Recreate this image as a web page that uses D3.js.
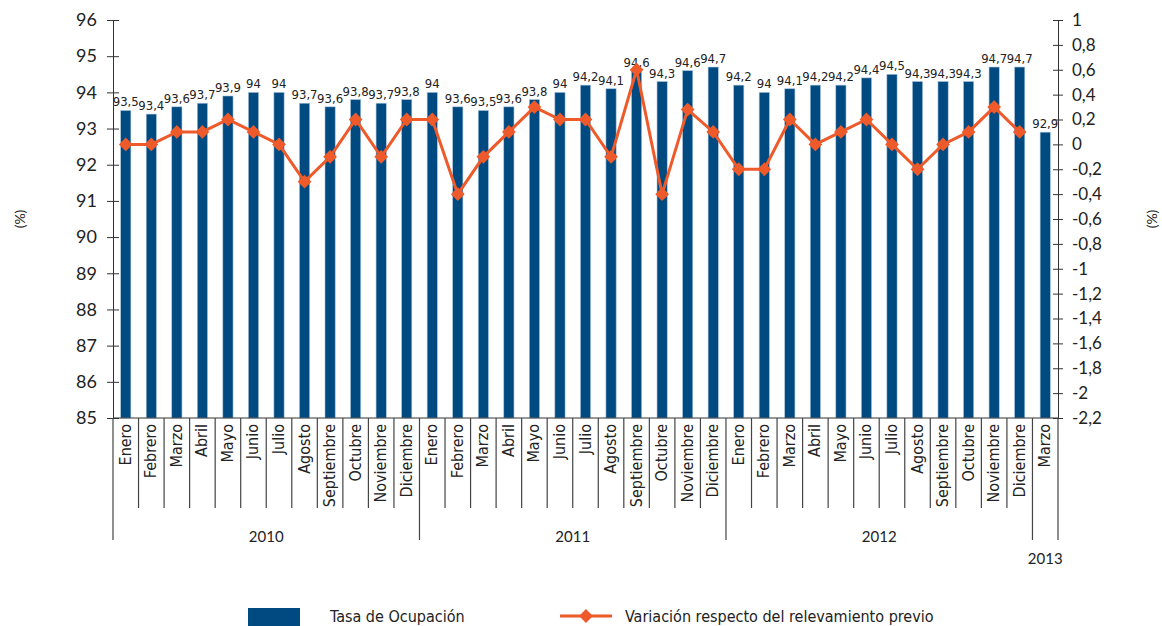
<!DOCTYPE html>
<html>
<head>
<meta charset="utf-8">
<script src="https://cdn.jsdelivr.net/npm/d3@7"></script>
<style>
  body { margin: 0; background: #fff; }
  svg { display: block; }
  .tick text { font-family: Lato, "Open Sans", sans-serif; }
</style>
</head>
<body>
<svg id="chart"></svg>
<script>
// data
var months = ["Enero","Febrero","Marzo","Abril","Mayo","Junio","Julio","Agosto","Septiembre","Octubre","Noviembre","Diciembre",
  "Enero","Febrero","Marzo","Abril","Mayo","Junio","Julio","Agosto","Septiembre","Octubre","Noviembre","Diciembre",
  "Enero","Febrero","Marzo","Abril","Mayo","Junio","Julio","Agosto","Septiembre","Octubre","Noviembre","Diciembre",
  "Marzo"];

var years = [
  {label: "2010", from: 0, to: 12},
  {label: "2011", from: 12, to: 24},
  {label: "2012", from: 24, to: 36},
  {label: "2013", from: 36, to: 37}
];

var ocupacion = [93.5, 93.4, 93.6, 93.7, 93.9, 94, 94, 93.7, 93.6, 93.8, 93.7, 93.8,
  94, 93.6, 93.5, 93.6, 93.8, 94, 94.2, 94.1, 94.6, 94.3, 94.6, 94.7,
  94.2, 94, 94.1, 94.2, 94.2, 94.4, 94.5, 94.3, 94.3, 94.3, 94.7, 94.7,
  92.9];

// last bar (Marzo 2013) has no variation point
var variacion = [0, 0, 0.1, 0.1, 0.2, 0.1, 0, -0.3, -0.1, 0.2, -0.1, 0.2,
  0.2, -0.4, -0.1, 0.1, 0.3, 0.2, 0.2, -0.1, 0.6, -0.4, 0.28, 0.1,
  -0.2, -0.2, 0.2, 0, 0.1, 0.2, 0, -0.2, 0, 0.1, 0.3, 0.1];

var leftTicks = [85, 86, 87, 88, 89, 90, 91, 92, 93, 94, 95, 96];
var rightTicks = [-2.2, -2, -1.8, -1.6, -1.4, -1.2, -1, -0.8, -0.6, -0.4, -0.2, 0, 0.2, 0.4, 0.6, 0.8, 1];

var barColor = "#004a82", lineColor = "#ee5a2a";
var W = 1162, H = 626;
var x0 = 113, x1 = 1058, yTop = 20, yBot = 418;

var fmt = function(v) { return String(Math.round(v * 10) / 10).replace(".", ","); };

var svg = d3.select("#chart").attr("width", W).attr("height", H);

var x = d3.scaleBand()
  .domain(d3.range(months.length))
  .range([x0, x1])
  .padding(0);

var yL = d3.scaleLinear().domain([85, 96]).range([yBot, yTop]);
var yR = d3.scaleLinear().domain([-2.2, 1]).range([yBot, yTop]);

var bw = x.bandwidth() * 0.4;

// bars
svg.append("g").selectAll("rect")
  .data(ocupacion)
  .enter().append("rect")
  .attr("x", (d, i) => x(i) + x.bandwidth() / 2 - bw / 2)
  .attr("y", d => yL(d))
  .attr("width", bw)
  .attr("height", d => yBot - yL(d))
  .attr("fill", barColor)
  .attr("stroke", "#a9c4dc")
  .attr("stroke-width", 0.6);

// bar labels
svg.append("g").selectAll("text")
  .data(ocupacion)
  .enter().append("text")
  .attr("x", (d, i) => x(i) + x.bandwidth() / 2)
  .attr("y", d => yL(d) - 4)
  .attr("text-anchor", "middle")
  .attr("font-family", "'Liberation Sans Narrow', 'DejaVu Sans Condensed', sans-serif")
  .attr("font-size", 13)
  .attr("fill", "#222")
  .text(d => fmt(d));

// axes
var axL = svg.append("g")
  .attr("transform", "translate(" + x0 + ",0)")
  .call(d3.axisLeft(yL).tickValues(leftTicks).tickFormat(fmt).tickSizeInner(6).tickSizeOuter(0).tickPadding(10));
axL.selectAll(".tick line").attr("x1", 6);
axL.selectAll(".tick text").attr("font-size", 18).attr("fill", "#222");

var axR = svg.append("g")
  .attr("transform", "translate(" + x1 + ",0)")
  .call(d3.axisRight(yR).tickValues(rightTicks).tickFormat(fmt).tickSizeInner(5).tickSizeOuter(0).tickPadding(9));
axR.selectAll(".tick line").attr("x1", -5);
axR.selectAll(".tick text").attr("font-size", 17).attr("fill", "#222");

svg.selectAll(".domain").attr("stroke", "#333");
svg.selectAll(".tick line").attr("stroke", "#333");

// bottom axis line
svg.append("line")
  .attr("x1", x0).attr("x2", x1).attr("y1", yBot).attr("y2", yBot)
  .attr("stroke", "#333");

// month separators
var yearStarts = years.map(d => d.from).concat([months.length]);
svg.append("g").selectAll("line")
  .data(d3.range(months.length + 1))
  .enter().append("line")
  .attr("x1", i => i < months.length ? x(i) : x1)
  .attr("x2", i => i < months.length ? x(i) : x1)
  .attr("y1", yBot)
  .attr("y2", i => yearStarts.indexOf(i) >= 0 ? 540 : 508)
  .attr("stroke", "#444")
  .attr("stroke-width", 1.2);

// month labels
svg.append("g").selectAll("text")
  .data(months)
  .enter().append("text")
  .attr("transform", (d, i) => "translate(" + (x(i) + x.bandwidth() / 2 + 5) + "," + (yBot + 6) + ") rotate(-90)")
  .attr("text-anchor", "end")
  .attr("font-family", "'Liberation Sans Narrow', 'DejaVu Sans Condensed', sans-serif")
  .attr("font-size", 16)
  .attr("fill", "#222")
  .text(d => d);

// year labels
svg.append("g").selectAll("text")
  .data(years)
  .enter().append("text")
  .attr("x", d => d.to - d.from > 1 ? (x(d.from) + x(d.to - 1) + x.bandwidth()) / 2 : (x(d.from) + x.bandwidth() / 2))
  .attr("y", d => d.to - d.from > 1 ? 542 : 564)
  .attr("text-anchor", "middle")
  .attr("font-family", "Lato, 'Open Sans', sans-serif")
  .attr("font-size", 15)
  .attr("fill", "#222")
  .text(d => d.label);

// line
var line = d3.line()
  .x((d, i) => x(i) + x.bandwidth() / 2)
  .y(d => yR(d));

svg.append("path")
  .datum(variacion)
  .attr("d", line)
  .attr("fill", "none")
  .attr("stroke", lineColor)
  .attr("stroke-width", 3);

// diamond = square turned 45deg
var diamond = d3.symbol().type(d3.symbolSquare).size(95);
svg.append("g").selectAll("path")
  .data(variacion)
  .enter().append("path")
  .attr("transform", (d, i) => "translate(" + (x(i) + x.bandwidth() / 2) + "," + yR(d) + ") rotate(45)")
  .attr("d", diamond)
  .attr("fill", lineColor);

// axis titles
svg.append("text")
  .attr("transform", "translate(25,219) rotate(-90)")
  .attr("text-anchor", "middle")
  .attr("font-family", "Lato, 'Open Sans', sans-serif")
  .attr("font-size", 14).attr("fill", "#222")
  .text("(%)");
svg.append("text")
  .attr("transform", "translate(1157,219) rotate(-90)")
  .attr("text-anchor", "middle")
  .attr("font-family", "Lato, 'Open Sans', sans-serif")
  .attr("font-size", 14).attr("fill", "#222")
  .text("(%)");

// legend
var lg = svg.append("g")
  .attr("font-family", "'Liberation Sans Narrow', 'DejaVu Sans Condensed', sans-serif")
  .attr("font-size", 16).attr("fill", "#222");
lg.append("rect").attr("x", 248).attr("y", 608).attr("width", 52).attr("height", 18).attr("fill", barColor);
lg.append("text").attr("x", 330).attr("y", 622).text("Tasa de Ocupación");
lg.append("line").attr("x1", 560).attr("x2", 612).attr("y1", 616).attr("y2", 616)
  .attr("stroke", lineColor).attr("stroke-width", 3);
lg.append("path").attr("transform", "translate(586,616) rotate(45)").attr("d", diamond).attr("fill", lineColor);
lg.append("text").attr("x", 625).attr("y", 622).text("Variación respecto del relevamiento previo");
</script>
</body>
</html>
